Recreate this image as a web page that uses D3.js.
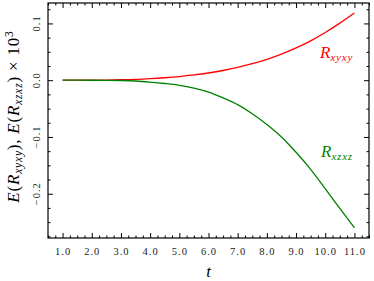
<!DOCTYPE html>
<html>
<head>
<meta charset="utf-8">
<script src="https://cdn.jsdelivr.net/npm/d3@7"></script>
<style>
  body { margin: 0; background: #fff; }
  text { font-family: "Liberation Serif", "DejaVu Serif", serif; }
</style>
</head>
<body>
<div id="chart"></div>
<script>
// t values and curve values (x 10^3)
var tValues = [1.0, 1.5, 2.0, 2.5, 3.0, 3.5, 4.0, 4.5, 5.0, 5.5, 6.0, 6.5, 7.0, 7.5, 8.0, 8.5, 9.0, 9.5, 10.0, 10.5, 11.0];
var rxyxy = [0, 0.0000, 0.0001, 0.0003, 0.0008, 0.0015, 0.0027, 0.0043, 0.0064, 0.0092, 0.0127, 0.0171, 0.0225, 0.0290, 0.0368, 0.0460, 0.0568, 0.0694, 0.0840, 0.1005, 0.1185];
var rxzxz = [0, 0.0000, -0.0001, -0.0002, -0.0005, -0.0014, -0.0033, -0.0058, -0.0090, -0.0140, -0.0210, -0.0310, -0.0430, -0.0590, -0.0780, -0.1000, -0.1270, -0.1570, -0.1910, -0.2260, -0.2600];
var xTickValues = [1, 2, 3, 4, 5, 6, 7, 8, 9, 10, 11];
var xTickLabels = ["1.0", "2.0", "3.0", "4.0", "5.0", "6.0", "7.0", "8.0", "9.0", "10.0", "11.0"];
var yTickValues = [0.1, 0.0, -0.1, -0.2];
var yTickLabels = ["0.1", "0.0", "\u22120.1", "\u22120.2"];

var W = 374, H = 281;
var margin = {top: 3, right: 5, bottom: 43, left: 48},
    width = W - margin.left - margin.right,
    height = H - margin.top - margin.bottom;

var svg = d3.select("#chart").append("svg")
  .attr("width", W)
  .attr("height", H);

var g = svg.append("g")
  .attr("transform", "translate(" + margin.left + "," + margin.top + ")");

var x = d3.scaleLinear().domain([0.5, 11.5]).range([0, width]);
var y = d3.scaleLinear().domain([-0.278, 0.136]).range([height, 0]);

// minor ticks
var xMinor = d3.range(0.5, 11.51, 0.25).filter(function(d){ return Math.abs(d - Math.round(d)) > 1e-6; });
var yMinor = d3.range(-0.275, 0.136, 0.025).filter(function(d){ return Math.abs(d*10 - Math.round(d*10)) > 1e-6; });

function styleAxis(sel) {
  sel.select(".domain").remove();
  sel.selectAll("line").attr("stroke", "#000").attr("stroke-width", 1);
}

// major + minor ticks on all four sides, pointing in
g.append("g").attr("transform", "translate(0," + height + ")")
  .call(d3.axisBottom(x).tickValues(xTickValues).tickSize(-5).tickPadding(10)
    .tickFormat(function(d, i){ return xTickLabels[i]; }))
  .call(styleAxis)
  .selectAll("text").attr("font-size", "10.5px").attr("fill", "#222")
    .attr("letter-spacing", "1px")
    .style("font-family", "'Liberation Serif', serif");
g.append("g").attr("transform", "translate(0," + height + ")")
  .call(d3.axisBottom(x).tickValues(xMinor).tickSize(-2.5).tickFormat(""))
  .call(styleAxis);
g.append("g")
  .call(d3.axisTop(x).tickValues(xTickValues).tickSize(-5).tickFormat(""))
  .call(styleAxis);
g.append("g")
  .call(d3.axisTop(x).tickValues(xMinor).tickSize(-2.5).tickFormat(""))
  .call(styleAxis);
g.append("g")
  .call(d3.axisLeft(y).tickValues(yTickValues).tickSize(-5).tickFormat(""))
  .call(styleAxis);
g.append("g")
  .call(d3.axisLeft(y).tickValues(yMinor).tickSize(-2.5).tickFormat(""))
  .call(styleAxis);
g.append("g").attr("transform", "translate(" + width + ",0)")
  .call(d3.axisRight(y).tickValues(yTickValues).tickSize(-5).tickFormat(""))
  .call(styleAxis);
g.append("g").attr("transform", "translate(" + width + ",0)")
  .call(d3.axisRight(y).tickValues(yMinor).tickSize(-2.5).tickFormat(""))
  .call(styleAxis);

// rotated y tick labels
g.selectAll(".ylab")
  .data(yTickValues)
  .enter().append("text")
    .attr("class", "ylab")
    .attr("transform", function(d){ return "translate(-8," + y(d) + ") rotate(-90)"; })
    .attr("text-anchor", "middle")
    .attr("font-size", "10.5px")
    .attr("letter-spacing", "1px")
    .attr("fill", "#222")
    .text(function(d, i){ return yTickLabels[i]; });

// frame
g.append("rect")
  .attr("width", width)
  .attr("height", height)
  .attr("fill", "none")
  .attr("stroke", "#000")
  .attr("stroke-width", 1.2);

var line = d3.line()
  .x(function(d){ return x(d[0]); })
  .y(function(d){ return y(d[1]); })
  .curve(d3.curveMonotoneX);

g.append("path")
  .datum(tValues.map(function(t, i){ return [t, rxyxy[i]]; }))
  .attr("d", line)
  .attr("fill", "none")
  .attr("stroke", "#ff0000")
  .attr("stroke-width", 1.3);

g.append("path")
  .datum(tValues.map(function(t, i){ return [t, rxzxz[i]]; }))
  .attr("d", line)
  .attr("fill", "none")
  .attr("stroke", "#008000")
  .attr("stroke-width", 1.3);

// curve labels
function rLabel(px, py, sub, color) {
  var t = svg.append("text")
    .attr("x", px).attr("y", py)
    .attr("fill", color)
    .attr("font-style", "italic");
  t.append("tspan").attr("font-size", "17px").text("R");
  t.append("tspan").attr("font-size", "11px").attr("dy", 3).attr("letter-spacing", "0.8px").text(sub);
}
rLabel(320, 58, "xyxy", "#ff0000");
rLabel(321, 157, "xzxz", "#008000");

// x axis title
svg.append("text")
  .attr("x", margin.left + width / 2)
  .attr("y", 277)
  .attr("text-anchor", "middle")
  .attr("font-size", "17px")
  .attr("font-style", "italic")
  .text("t");

// y axis title
var yt = svg.append("text")
  .attr("transform", "translate(19," + (margin.top + height / 2 - 4) + ") rotate(-90)")
  .attr("text-anchor", "middle")
  .attr("letter-spacing", "0.8px")
  .attr("font-size", "17px");
yt.append("tspan").attr("font-style", "italic").text("E");
yt.append("tspan").text("(");
yt.append("tspan").attr("font-style", "italic").text("R");
yt.append("tspan").attr("font-style", "italic").attr("font-size", "11.5px").attr("dy", 3).text("xyxy");
yt.append("tspan").attr("dy", -3).text("), ");
yt.append("tspan").attr("font-style", "italic").text("E");
yt.append("tspan").text("(");
yt.append("tspan").attr("font-style", "italic").text("R");
yt.append("tspan").attr("font-style", "italic").attr("font-size", "11.5px").attr("dy", 3).text("xzxz");
yt.append("tspan").attr("dy", -3).text(") \u00d7 10");
yt.append("tspan").attr("font-size", "11.5px").attr("dy", -6).text("3");
</script>
</body>
</html>
